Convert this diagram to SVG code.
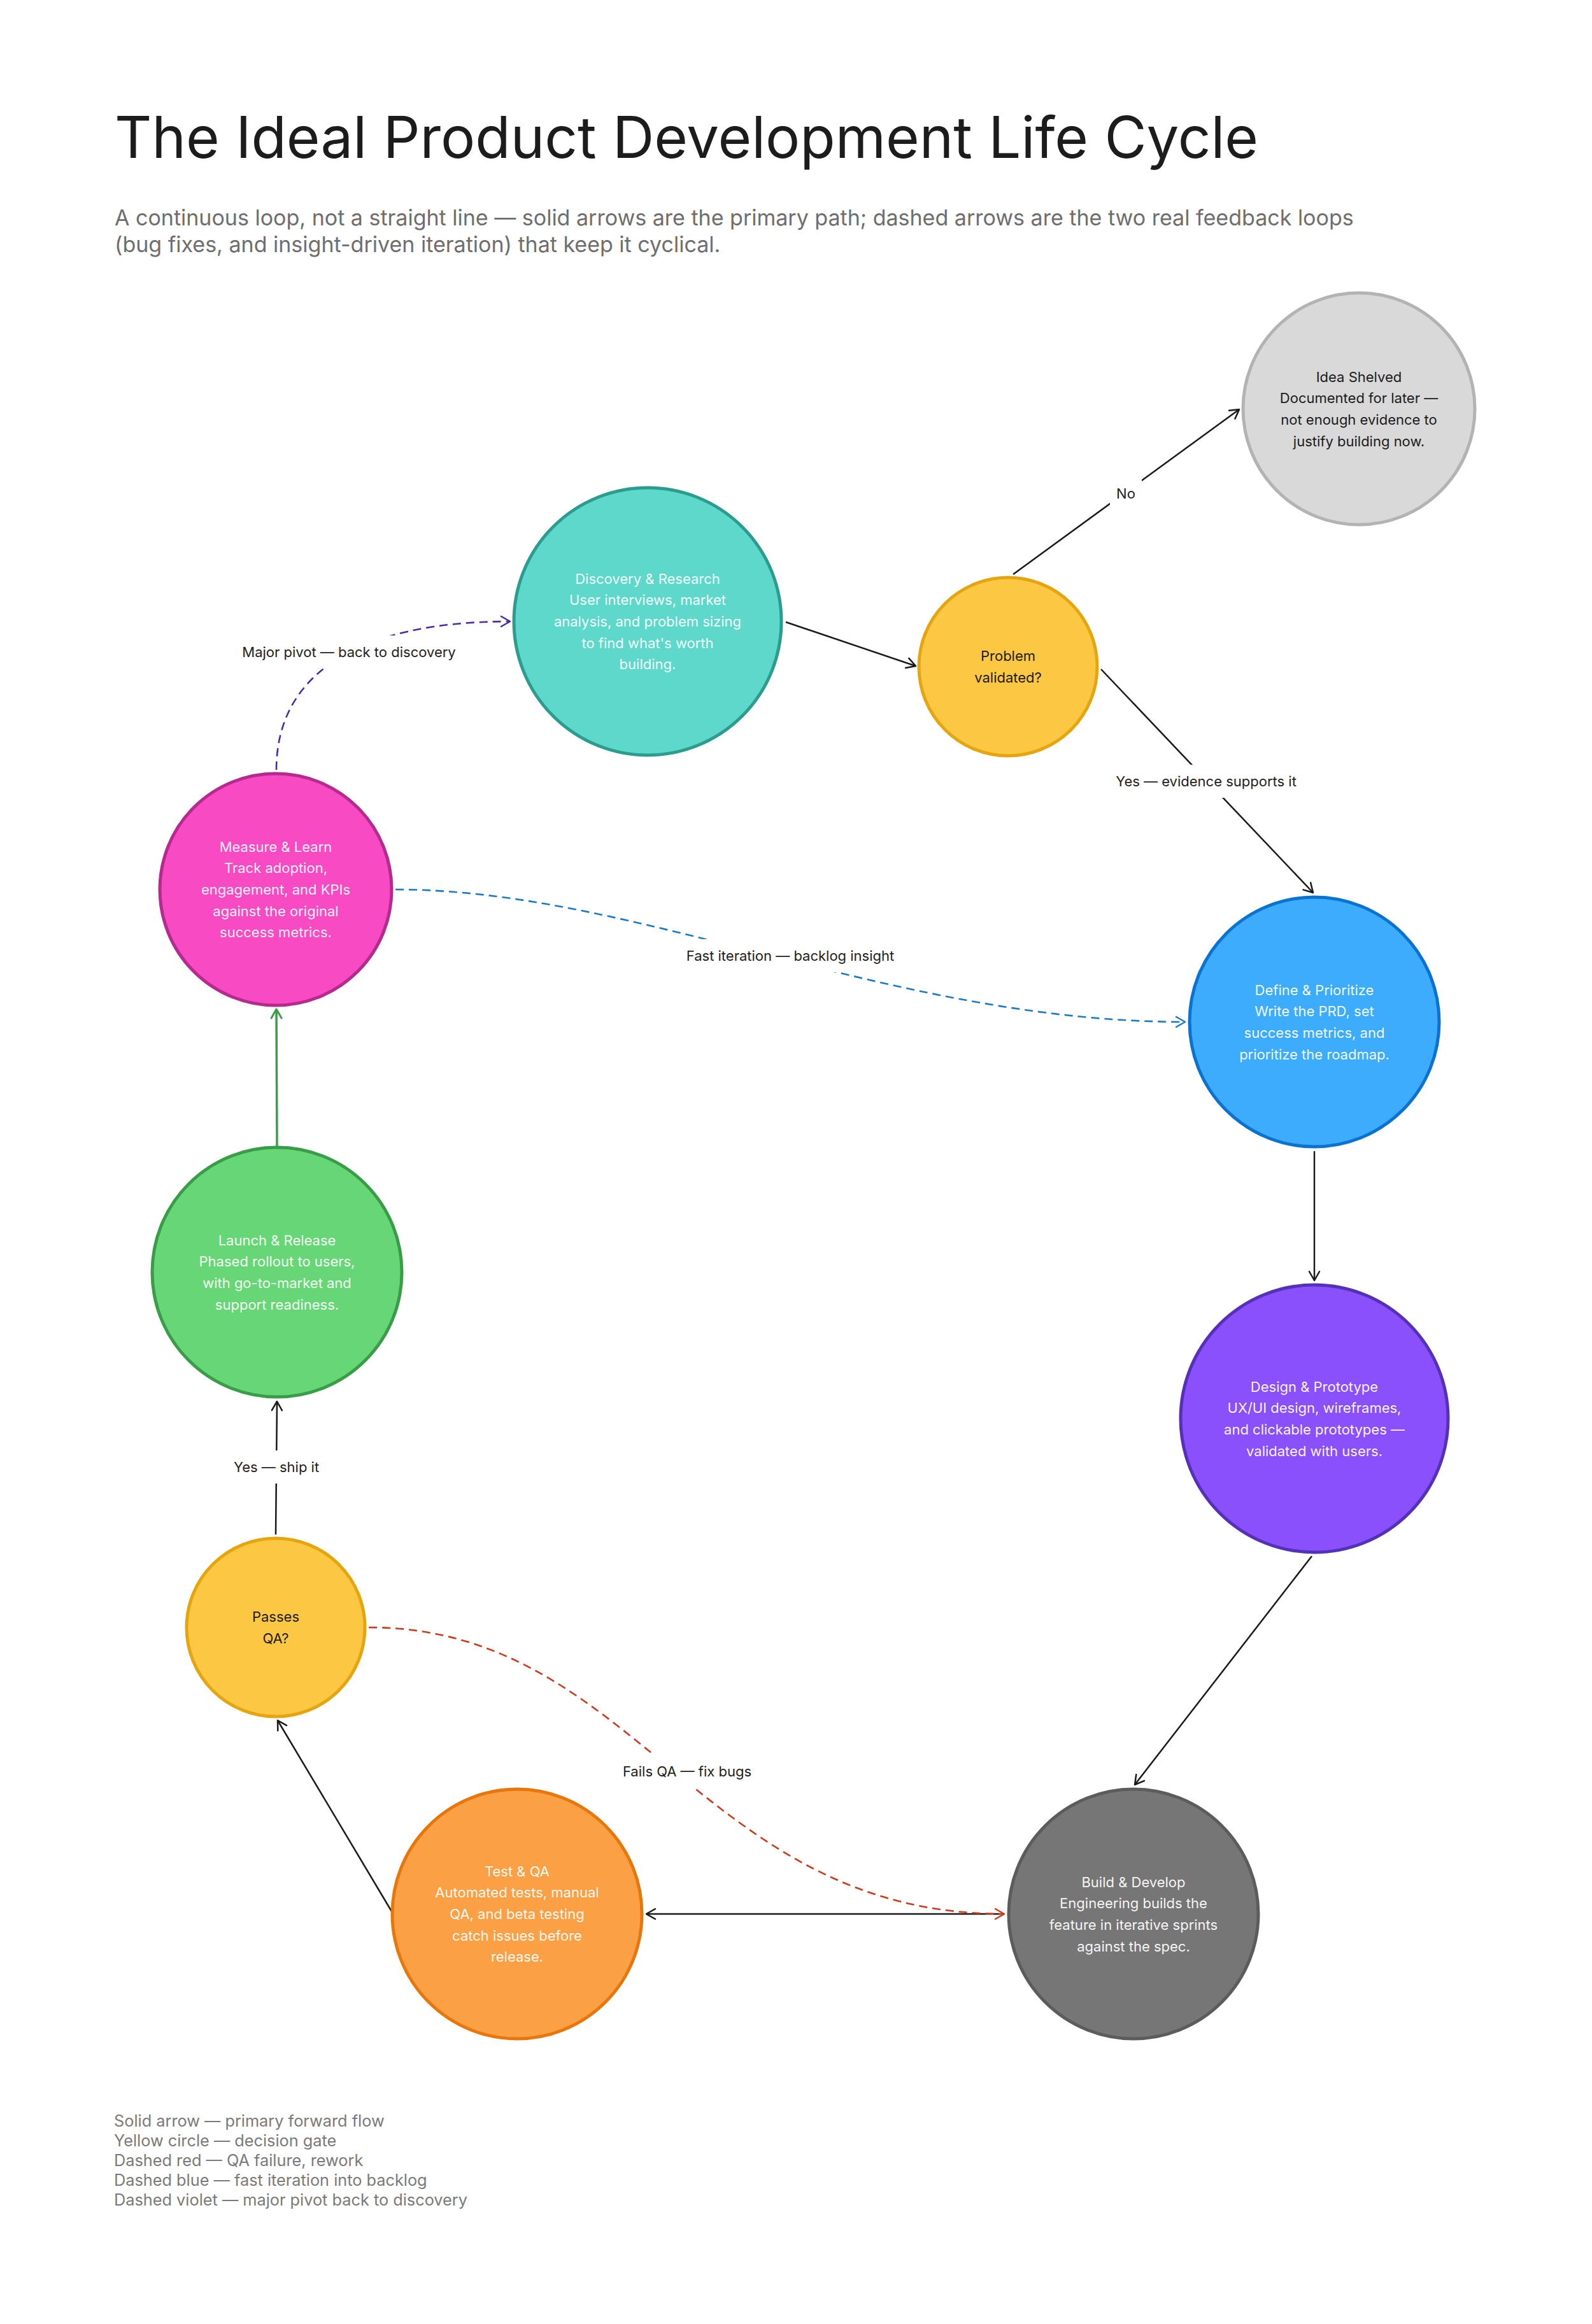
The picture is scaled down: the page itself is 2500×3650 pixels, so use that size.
<svg xmlns="http://www.w3.org/2000/svg" width="2500" height="3650" viewBox="0 0 2500 3650">
<defs>
<style>
.title{font-family:Inter,"Liberation Sans",sans-serif;font-size:90.5px;fill:#1c1c1c;}
.sub{font-family:Inter,"Liberation Sans",sans-serif;font-size:34px;fill:#6e6e6e;}
.nt{font-family:Inter,"Liberation Sans",sans-serif;font-size:22px;fill:#ffffff;fill-opacity:0.95;text-anchor:middle;}
.nd{font-family:Inter,"Liberation Sans",sans-serif;font-size:22px;fill:#1c1c1c;text-anchor:middle;}
.el{font-family:Inter,"Liberation Sans",sans-serif;font-size:22px;fill:#222222;text-anchor:middle;}
.lg{font-family:Inter,"Liberation Sans",sans-serif;font-size:25.3px;fill:#7a7a7a;}
.node{stroke-width:5;}
.solid{fill:none;stroke:#1a1a1a;stroke-width:2.5;}
.dash{fill:none;stroke-width:2.6;stroke-dasharray:13 8;}
.lbg{fill:#ffffff;}
</style>
<marker id="ak" viewBox="0 0 20 20" refX="17" refY="10" markerWidth="20" markerHeight="20" markerUnits="userSpaceOnUse" orient="auto"><path d="M3,2 L17,10 L3,18" fill="none" stroke="#1a1a1a" stroke-width="2.5" stroke-linecap="round" stroke-linejoin="round"/></marker>
<marker id="ag" viewBox="0 0 20 20" refX="17" refY="10" markerWidth="20" markerHeight="20" markerUnits="userSpaceOnUse" orient="auto"><path d="M3,2 L17,10 L3,18" fill="none" stroke="#3a9d48" stroke-width="3" stroke-linecap="round" stroke-linejoin="round"/></marker>
<marker id="ar" viewBox="0 0 20 20" refX="17" refY="10" markerWidth="20" markerHeight="20" markerUnits="userSpaceOnUse" orient="auto"><path d="M3,2 L17,10 L3,18" fill="none" stroke="#cc3a1c" stroke-width="2.5" stroke-linecap="round" stroke-linejoin="round"/></marker>
<marker id="ab" viewBox="0 0 20 20" refX="17" refY="10" markerWidth="20" markerHeight="20" markerUnits="userSpaceOnUse" orient="auto"><path d="M3,2 L17,10 L3,18" fill="none" stroke="#1a7ac8" stroke-width="2.5" stroke-linecap="round" stroke-linejoin="round"/></marker>
<marker id="av" viewBox="0 0 20 20" refX="17" refY="10" markerWidth="20" markerHeight="20" markerUnits="userSpaceOnUse" orient="auto"><path d="M3,2 L17,10 L3,18" fill="none" stroke="#4a2aa6" stroke-width="2.5" stroke-linecap="round" stroke-linejoin="round"/></marker>
</defs>
<rect x="0" y="0" width="2500" height="3650" fill="#ffffff"/>

<text class="title" x="180" y="248">The Ideal Product Development Life Cycle</text>
<text class="sub" x="180" y="354">A continuous loop, not a straight line — solid arrows are the primary path; dashed arrows are the two real feedback loops</text>
<text class="sub" x="180" y="396">(bug fixes, and insight-driven iteration) that keep it cyclical.</text>

<g id="connectors">
  <line class="solid" x1="1234" y1="977" x2="1438" y2="1046" marker-end="url(#ak)"/>
  <line class="solid" x1="1591" y1="902" x2="1946" y2="643" marker-end="url(#ak)"/>
  <line class="solid" x1="1729" y1="1051" x2="2062" y2="1402" marker-end="url(#ak)"/>
  <line class="solid" x1="2064" y1="1808" x2="2064" y2="2011" marker-end="url(#ak)"/>
  <line class="solid" x1="2060" y1="2444" x2="1782" y2="2803" marker-end="url(#ak)"/>
  <line class="solid" x1="1572" y1="3006" x2="1015" y2="3006" marker-end="url(#ak)"/>
  <line class="solid" x1="615" y1="3002" x2="436" y2="2702" marker-end="url(#ak)"/>
  <line class="solid" x1="433" y1="2410" x2="435" y2="2201" marker-end="url(#ak)"/>
  <line x1="435" y1="1800" x2="434" y2="1585" fill="none" stroke="#3a9d48" stroke-width="3.5" marker-end="url(#ag)"/>
  <path class="dash" stroke="#cc3a1c" d="M579,2556 C1000,2556 1100,3006 1577,3006" marker-end="url(#ar)"/>
  <path class="dash" stroke="#1a7ac8" d="M621,1397 C1000,1397 1400,1605 1861,1605" marker-end="url(#ab)"/>
  <path class="dash" stroke="#4a2aa6" d="M434,1209 C434,1060 560,976 801,976" marker-end="url(#av)"/>

  <g id="label-no"><rect class="lbg" x="1743" y="749" width="50" height="52"/><text class="el" x="1768" y="783">No</text></g>
  <g id="label-yes-evidence"><rect class="lbg" x="1742" y="1201" width="304" height="52"/><text class="el" x="1894" y="1235">Yes — evidence supports it</text></g>
  <g id="label-pivot"><rect class="lbg" x="372" y="998" width="352" height="52"/><text class="el" x="548" y="1032">Major pivot — back to discovery</text></g>
  <g id="label-fast"><rect class="lbg" x="1068" y="1475" width="346" height="52"/><text class="el" x="1241" y="1509">Fast iteration — backlog insight</text></g>
  <g id="label-ship"><rect class="lbg" x="360" y="2278" width="148" height="52"/><text class="el" x="434" y="2312">Yes — ship it</text></g>
  <g id="label-fails"><rect class="lbg" x="970" y="2756" width="218" height="52"/><text class="el" x="1079" y="2790">Fails QA — fix bugs</text></g>
</g>

<g id="node-shelved">
  <circle class="node" cx="2134" cy="642" r="182" fill="#d9d9d9" stroke="#b3b3b3"/>
  <text class="nd" x="2134" y="599.5">Idea Shelved</text>
  <text class="nd" x="2134" y="633.2">Documented for later —</text>
  <text class="nd" x="2134" y="666.9">not enough evidence to</text>
  <text class="nd" x="2134" y="700.6">justify building now.</text>
</g>

<g id="node-discovery">
  <circle class="node" cx="1017" cy="976" r="210" fill="#5dd8ca" stroke="#2c9c8f"/>
  <text class="nt" x="1017" y="916.6">Discovery &amp; Research</text>
  <text class="nt" x="1017" y="950.3">User interviews, market</text>
  <text class="nt" x="1017" y="984">analysis, and problem sizing</text>
  <text class="nt" x="1017" y="1017.7">to find what's worth</text>
  <text class="nt" x="1017" y="1051.4">building.</text>
</g>

<g id="node-problem">
  <circle class="node" cx="1583" cy="1047" r="140" fill="#fcc844" stroke="#e5a50f"/>
  <text class="nd" x="1583" y="1038.2">Problem</text>
  <text class="nd" x="1583" y="1071.9">validated?</text>
</g>

<g id="node-measure">
  <circle class="node" cx="433" cy="1397" r="182" fill="#f74ac3" stroke="#b52a8e"/>
  <text class="nt" x="433" y="1337.6">Measure &amp; Learn</text>
  <text class="nt" x="433" y="1371.3">Track adoption,</text>
  <text class="nt" x="433" y="1405">engagement, and KPIs</text>
  <text class="nt" x="433" y="1438.7">against the original</text>
  <text class="nt" x="433" y="1472.4">success metrics.</text>
</g>

<g id="node-define">
  <circle class="node" cx="2064" cy="1605" r="196" fill="#3eacfc" stroke="#0b72d0"/>
  <text class="nt" x="2064" y="1562.5">Define &amp; Prioritize</text>
  <text class="nt" x="2064" y="1596.2">Write the PRD, set</text>
  <text class="nt" x="2064" y="1629.9">success metrics, and</text>
  <text class="nt" x="2064" y="1663.6">prioritize the roadmap.</text>
</g>

<g id="node-launch">
  <circle class="node" cx="435" cy="1998" r="196" fill="#67d676" stroke="#399c47"/>
  <text class="nt" x="435" y="1955.5">Launch &amp; Release</text>
  <text class="nt" x="435" y="1989.2">Phased rollout to users,</text>
  <text class="nt" x="435" y="2022.9">with go-to-market and</text>
  <text class="nt" x="435" y="2056.6">support readiness.</text>
</g>

<g id="node-design">
  <circle class="node" cx="2064" cy="2228" r="210" fill="#8a50fb" stroke="#5331b8"/>
  <text class="nt" x="2064" y="2185.5">Design &amp; Prototype</text>
  <text class="nt" x="2064" y="2219.2">UX/UI design, wireframes,</text>
  <text class="nt" x="2064" y="2252.9">and clickable prototypes —</text>
  <text class="nt" x="2064" y="2286.6">validated with users.</text>
</g>

<g id="node-passes">
  <circle class="node" cx="433" cy="2556" r="140" fill="#fcc844" stroke="#e5a50f"/>
  <text class="nd" x="433" y="2547.2">Passes</text>
  <text class="nd" x="433" y="2580.9">QA?</text>
</g>

<g id="node-test">
  <circle class="node" cx="812" cy="3006" r="196" fill="#fca045" stroke="#e7760b"/>
  <text class="nt" x="812" y="2946.6">Test &amp; QA</text>
  <text class="nt" x="812" y="2980.3">Automated tests, manual</text>
  <text class="nt" x="812" y="3014">QA, and beta testing</text>
  <text class="nt" x="812" y="3047.7">catch issues before</text>
  <text class="nt" x="812" y="3081.4">release.</text>
</g>

<g id="node-build">
  <circle class="node" cx="1780" cy="3006" r="196" fill="#767676" stroke="#5c5c5c"/>
  <text class="nt" x="1780" y="2963.5">Build &amp; Develop</text>
  <text class="nt" x="1780" y="2997.2">Engineering builds the</text>
  <text class="nt" x="1780" y="3030.9">feature in iterative sprints</text>
  <text class="nt" x="1780" y="3064.6">against the spec.</text>
</g>

<g id="legend">
  <text class="lg" x="179" y="3340">Solid arrow — primary forward flow</text>
  <text class="lg" x="179" y="3371">Yellow circle — decision gate</text>
  <text class="lg" x="179" y="3402">Dashed red — QA failure, rework</text>
  <text class="lg" x="179" y="3433">Dashed blue — fast iteration into backlog</text>
  <text class="lg" x="179" y="3464">Dashed violet — major pivot back to discovery</text>
</g>
</svg>
